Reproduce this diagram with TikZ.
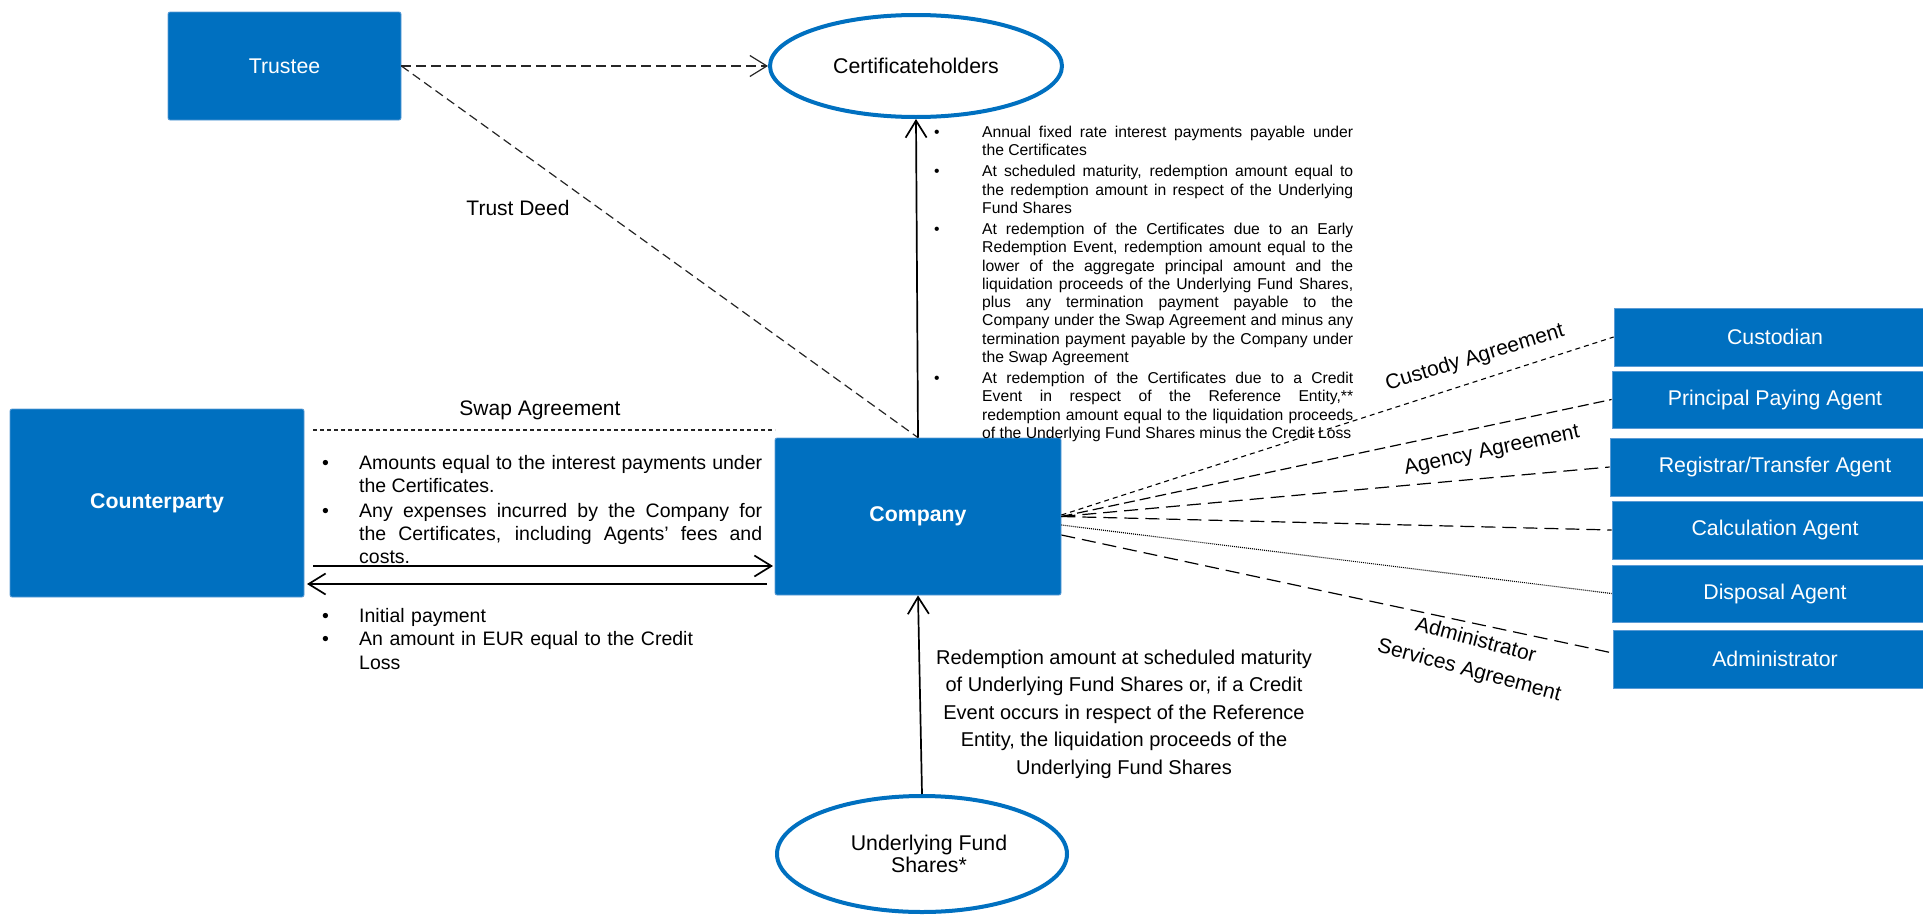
\documentclass[tikz,border=0pt]{standalone}
\usepackage{fontspec}
\setmainfont{Liberation Sans}
\usetikzlibrary{arrows.meta,shapes.geometric,calc}
\definecolor{cblue}{RGB}{0,112,192}
\definecolor{cedge}{RGB}{91,155,213}
\newcommand\bulitem[1]{\noindent\hangindent=#1\hangafter=1\makebox[#1][l]{\textbullet}\ignorespaces}
\begin{document}
\begin{tikzpicture}[x=1pt,y=-1pt,
  box/.style={rectangle, fill=cblue, draw=cedge, line width=0.8pt, text=white, inner sep=0pt, font=\fontsize{21.3}{25}\selectfont},
  bigbox/.style={box, rounded corners=2pt},
  oval/.style={ellipse, draw=cblue, line width=4pt, inner sep=0pt, align=center, font=\fontsize{21.3}{22}\selectfont},
  lbl/.style={inner sep=0pt, font=\fontsize{21}{24}\selectfont},
  btext/.style={anchor=north west, inner sep=0pt},
  arr/.style={line width=1.7pt, -{Straight Barb[length=17pt,width=21pt]}},
  dsh/.style={line width=1.2pt, black!85, dash pattern=on 9pt off 5pt},
  dshA/.style={line width=1.2pt, black!85, dash pattern=on 10pt off 5pt, -{Straight Barb[length=17pt,width=21pt]}},
  dshS/.style={line width=1.1pt, black!85, dash pattern=on 4pt off 3pt},
  dshC/.style={line width=1.1pt, black, dash pattern=on 5pt off 4pt},
  dshP/.style={line width=1.2pt, black, dash pattern=on 11pt off 5pt},
  dshL/.style={line width=1.2pt, black, dash pattern=on 14pt off 7pt},
  dotl/.style={line width=1.1pt, black, dash pattern=on 1pt off 1pt}
]
\useasboundingbox (0,0) rectangle (1923,918);

% main boxes
\node[bigbox, minimum width=233pt, minimum height=108pt] (trustee) at (284.5,66) {Trustee};
\node[bigbox, minimum width=294pt, minimum height=188pt, font=\bfseries\fontsize{21.3}{25}\selectfont] (cp) at (157,503) {Counterparty};
\node[bigbox, minimum width=286pt, minimum height=157pt, font=\bfseries\fontsize{21.3}{25}\selectfont] (company) at (918,516.5) {Company};

% ellipses
\node[oval, minimum width=292pt, minimum height=102pt] (cert) at (916,66) {Certificateholders};
\node[oval, minimum width=290pt, minimum height=116pt] (ufs) at (922,854) {\hspace*{14pt}Underlying Fund\\\hspace*{14pt}Shares*};

% right boxes
\node[box, minimum width=322pt, minimum height=58pt] (cust) at (1775,337) {Custodian};
\node[box, minimum width=326pt, minimum height=57pt] (ppa) at (1775,399.5) {Principal Paying Agent};
\node[box, minimum width=330pt, minimum height=58pt] (rta) at (1775,467) {Registrar/Transfer Agent};
\node[box, minimum width=326pt, minimum height=58pt] (ca) at (1775,530) {Calculation Agent};
\node[box, minimum width=326pt, minimum height=57pt] (da) at (1775,593.5) {Disposal Agent};
\node[box, minimum width=324pt, minimum height=58pt] (adm) at (1775,659) {Administrator};

% trustee connectors
\draw[dshA] (trustee.east) -- (cert.west);
\draw[dsh] (trustee.east) -- (company.north);
\node[lbl] (tdeed) at (518,208) {Trust Deed};

% vertical arrows
\draw[arr] (company.north) -- (cert.south);
\draw[arr] (ufs.north) -- (company.south);

% swap agreement
\coordinate (swl) at (313,430);
\coordinate (swr) at (775,430);
\draw[dshS] (swl) -- (swr);
\node[lbl] (swaplbl) at (540,410) {Swap Agreement};
\coordinate (s1a) at (313,566);
\coordinate (s1b) at (773,566);
\coordinate (s2a) at (767,584);
\coordinate (s2b) at (307,584);
\draw[arr] (s1a) -- (s1b);
\draw[arr] (s2a) -- (s2b);

% right side connectors
\draw[dshC] ($(company.east)+(0,-1.5)$) -- (cust.west);
\draw[dshP] (company.east) -- (ppa.west);
\draw[dshL] (company.east) -- (rta.west);
\draw[dshL] (company.east) -- (ca.west);
\draw[dotl] ($(company.east)+(0,8.5)$) -- (da.west);
\draw[dshL] ($(company.east)+(0,18.5)$) -- ($(adm.west)+(0,-6)$);

\node[lbl, rotate=17] (custlbl) at (1475,358) {Custody Agreement};
\node[lbl, rotate=12] (agylbl) at (1492,451) {Agency Agreement};
\node[lbl, rotate=-15] (admlbl1) at (1476,639) {Administrator};
\node[lbl, rotate=-15] (admlbl2) at (1469,671) {Services Agreement};

% certificate payments text
\node[btext, text width=419pt, align=justify, font=\fontsize{15.7}{18.3}\selectfont] (certtext) at (934,126) {\setlength{\parskip}{2.7pt}\hyphenpenalty=10000\exhyphenpenalty=10000%
\bulitem{48pt}Annual fixed rate interest payments payable under\linebreak the Certificates\par
\bulitem{48pt}At scheduled maturity, redemption amount equal to\linebreak the redemption amount in respect of the Underlying\linebreak Fund Shares\par
\bulitem{48pt}At redemption of the Certificates due to an Early\linebreak Redemption Event, redemption amount equal to the\linebreak lower of the aggregate principal amount and the\linebreak liquidation proceeds of the Underlying Fund Shares,\linebreak plus any termination payment payable to the\linebreak Company under the Swap Agreement and minus any\linebreak termination payment payable by the Company under\linebreak the Swap Agreement\par
\bulitem{48pt}At redemption of the Certificates due to a Credit\linebreak Event in respect of the Reference Entity,**\linebreak redemption amount equal to the liquidation proceeds\linebreak of the Underlying Fund Shares minus the Credit Loss\par};

% swap payments text
\node[btext, text width=440pt, align=justify, font=\fontsize{19.5}{23}\selectfont] (swaptext) at (322,455) {\setlength{\parskip}{2pt}\hyphenpenalty=10000\exhyphenpenalty=10000%
\bulitem{37pt}Amounts equal to the interest payments under\linebreak the Certificates.\par
\bulitem{37pt}Any expenses incurred by the Company for\linebreak the Certificates, including Agents’ fees and\linebreak costs.\par};

\node[btext, text width=440pt, align=left, font=\fontsize{19.5}{23.5}\selectfont] (cptext) at (322,608) {\hyphenpenalty=10000%
\bulitem{37pt}Initial payment\par
\bulitem{37pt}An amount in EUR equal to the Credit\newline Loss\par};

% underlying text
\node[lbl, align=center, font=\fontsize{20}{27.5}\selectfont] (redtext) at (1124,714) {Redemption amount at scheduled maturity\\of Underlying Fund Shares or, if a Credit\\Event occurs in respect of the Reference\\Entity, the liquidation proceeds of the\\Underlying Fund Shares};
\end{tikzpicture}
\end{document}
